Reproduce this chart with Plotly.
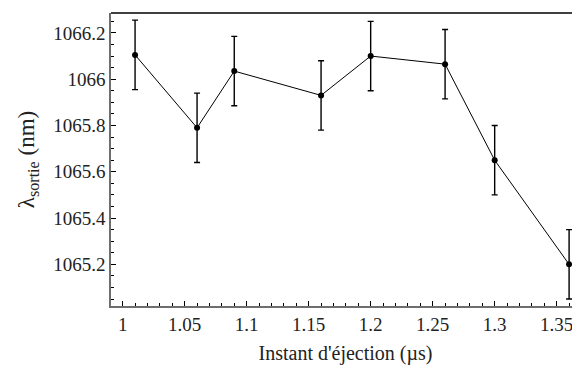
import plotly.graph_objects as go

# data
instant_us = [1.01, 1.06, 1.09, 1.16, 1.20, 1.26, 1.30, 1.36]
lambda_nm = [1066.105, 1065.79, 1066.035, 1065.93, 1066.10, 1066.065, 1065.65, 1065.20]
erreur_nm = [0.15, 0.15, 0.15, 0.15, 0.15, 0.15, 0.15, 0.15]

x_ticks = [1, 1.05, 1.1, 1.15, 1.2, 1.25, 1.3, 1.35]
y_ticks = [1065.2, 1065.4, 1065.6, 1065.8, 1066, 1066.2]

police = "Liberation Serif, DejaVu Serif, serif"

fig = go.Figure()
fig.add_trace(go.Scatter(
    x=instant_us, y=lambda_nm,
    mode="lines+markers",
    line=dict(color="black", width=1),
    marker=dict(color="black", size=6, symbol="circle"),
    error_y=dict(type="data", array=erreur_nm, visible=True,
                 color="black", thickness=1.4, width=3),
    showlegend=False,
    cliponaxis=False,
))

axe = dict(showgrid=False, zeroline=False, showline=True, linecolor="#6e6e6e",
           linewidth=1.5, ticks="inside", tickcolor="black", ticklen=5, automargin=False,
           tickfont=dict(family=police, size=19, color="#222"))

fig.update_xaxes(**axe, range=[0.9906, 1.3688], tickvals=x_ticks,
                 ticktext=[f"{v:g}" for v in x_ticks],
                 minor=dict(ticks="inside", dtick=0.01, ticklen=3, tickcolor="black"),
                 title=dict(text="Instant d'éjection (µs)", standoff=12,
                            font=dict(family=police, size=20, color="#222")))
fig.update_yaxes(**axe, range=[1065.02, 1066.286], tickvals=y_ticks,
                 ticktext=[f"{v:g}" for v in y_ticks],
                 minor=dict(ticks="inside", dtick=0.05, ticklen=3, tickcolor="black"),
                 title=dict(text="λ<sub>sortie</sub> (nm)", standoff=12,
                            font=dict(family=police, size=23, color="#222")))

# ligne du cadre en haut
fig.add_shape(type="line", xref="paper", yref="paper", x0=0, x1=1, y0=1, y1=1,
              line=dict(color="black", width=1.5))

# la page garde une marge de 8 px, d'où 572x359 et les marges réduites
fig.update_layout(width=572, height=359, plot_bgcolor="white", paper_bgcolor="white",
                  margin=dict(l=103, r=0, t=5, b=61))

fig.write_html("out.html")
